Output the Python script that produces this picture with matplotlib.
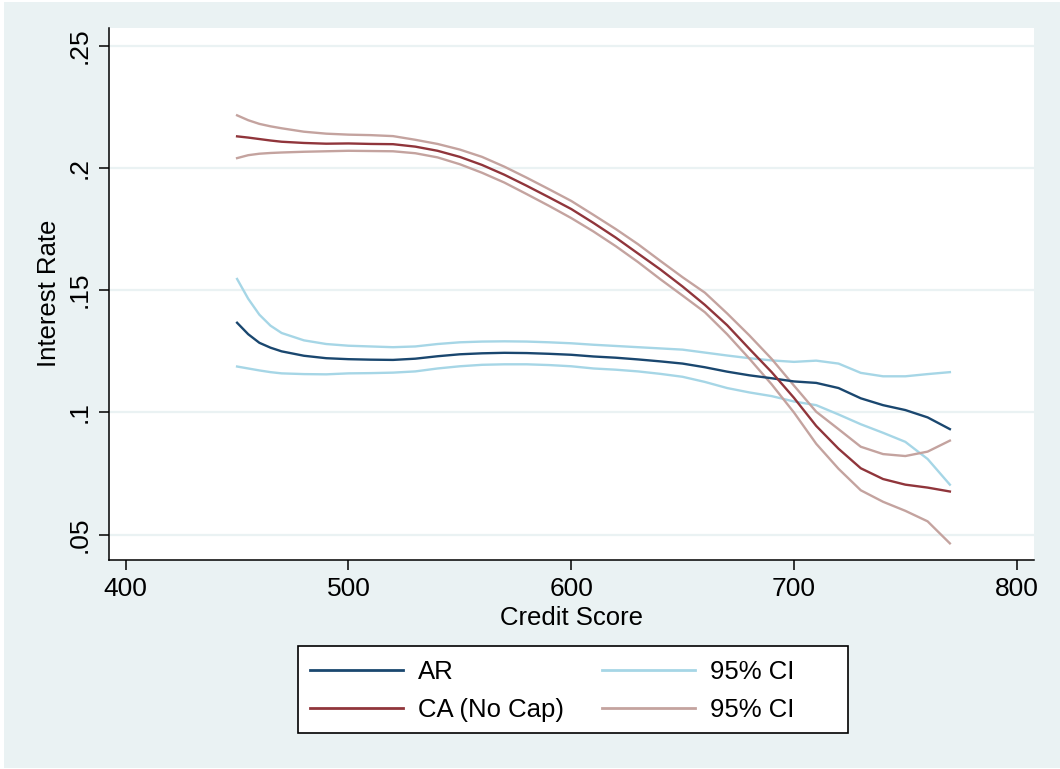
#!/usr/bin/env python3
"""Local polynomial fit of interest rate on credit score, AR vs CA (no cap), with 95% bands."""

import matplotlib

matplotlib.use("Agg")
import matplotlib.pyplot as plt
from matplotlib.lines import Line2D
from matplotlib.patches import Rectangle

plt.rcParams["font.family"] = ["Liberation Sans", "DejaVu Sans"]

# Evaluation grid (credit score)
score = [450, 455, 460, 465, 470, 480, 490, 500, 510, 520, 530, 540, 550, 560, 570, 580, 590,
         600, 610, 620, 630, 640, 650, 660, 670, 680, 690, 700, 710, 720, 730, 740, 750, 760, 770]

ar_fit = [0.1367, 0.1320, 0.1285, 0.1265, 0.1250, 0.1232, 0.1222, 0.1218, 0.1216, 0.1215, 0.1220,
          0.1230, 0.1238, 0.1242, 0.1244, 0.1243, 0.1240, 0.1236, 0.1229, 0.1224, 0.1217, 0.1209,
          0.1200, 0.1185, 0.1167, 0.1152, 0.1140, 0.1127, 0.1121, 0.1100, 0.1058, 0.1030, 0.1010,
          0.0980, 0.0932]
ar_hi = [0.1546, 0.1465, 0.1400, 0.1355, 0.1325, 0.1295, 0.1280, 0.1273, 0.1270, 0.1267, 0.1270,
         0.1280, 0.1287, 0.1290, 0.1291, 0.1290, 0.1287, 0.1283, 0.1277, 0.1272, 0.1267, 0.1262,
         0.1257, 0.1245, 0.1233, 0.1222, 0.1213, 0.1207, 0.1212, 0.1200, 0.1162, 0.1148, 0.1148,
         0.1157, 0.1165]
ar_lo = [0.1188, 0.1180, 0.1172, 0.1165, 0.1160, 0.1157, 0.1156, 0.1160, 0.1161, 0.1163, 0.1168,
         0.1180, 0.1189, 0.1195, 0.1197, 0.1197, 0.1194, 0.1189, 0.1180, 0.1175, 0.1168, 0.1158,
         0.1146, 0.1125, 0.1100, 0.1082, 0.1067, 0.1045, 0.1030, 0.0992, 0.0952, 0.0917, 0.0880,
         0.0810, 0.0705]

ca_fit = [0.2129, 0.2124, 0.2118, 0.2112, 0.2107, 0.2102, 0.2099, 0.2100, 0.2098, 0.2097, 0.2087,
          0.2070, 0.2045, 0.2012, 0.1972, 0.1927, 0.1880, 0.1832, 0.1775, 0.1715, 0.1650, 0.1585,
          0.1515, 0.1440, 0.1357, 0.1260, 0.1165, 0.1060, 0.0945, 0.0852, 0.0772, 0.0728, 0.0705,
          0.0693, 0.0677]
ca_hi = [0.2215, 0.2195, 0.2180, 0.2170, 0.2162, 0.2148, 0.2140, 0.2136, 0.2134, 0.2130, 0.2115,
         0.2098, 0.2075, 0.2045, 0.2005, 0.1960, 0.1913, 0.1865, 0.1808, 0.1750, 0.1688, 0.1620,
         0.1553, 0.1490, 0.1405, 0.1315, 0.1219, 0.1110, 0.1003, 0.0932, 0.0860, 0.0830, 0.0822,
         0.0840, 0.0885]
ca_lo = [0.2040, 0.2052, 0.2058, 0.2061, 0.2063, 0.2066, 0.2068, 0.2070, 0.2069, 0.2068, 0.2060,
         0.2043, 0.2015, 0.1980, 0.1940, 0.1893, 0.1845, 0.1795, 0.1740, 0.1680, 0.1615, 0.1545,
         0.1478, 0.1410, 0.1320, 0.1220, 0.1115, 0.1000, 0.0872, 0.0770, 0.0682, 0.0635, 0.0598,
         0.0555, 0.0465]

x_ticks = [400, 500, 600, 700, 800]
y_ticks = [0.05, 0.1, 0.15, 0.2, 0.25]
y_tick_labels = [".05", ".1", ".15", ".2", ".25"]

NAVY = "#1a476f"
MAROON = "#90353b"
CI_BLUE = "#a6d6e6"
CI_ROSE = "#c4a39f"
BG = "#eaf2f3"

W, H = 1060, 769
fig = plt.figure(figsize=(W / 100, H / 100), dpi=100, facecolor="white")
# graph region sits inside a thin white margin, behind the axes
fig.patches.append(Rectangle((4 / W, 1 / H), 1 - 4 / W, 1 - 3 / H, transform=fig.transFigure,
                             facecolor=BG, edgecolor="none", zorder=-10))

ax = fig.add_axes([109 / W, 1 - 559.5 / H, 925.3 / W, 531.5 / H])
ax.set_facecolor("white")

for yt in y_ticks:
    ax.axhline(yt, color=BG, linewidth=1.6, zorder=0)

lw = 1.7
ax.plot(score, ar_fit, color=NAVY, linewidth=lw, zorder=3)
ax.plot(score, ca_fit, color=MAROON, linewidth=lw, zorder=3)
ax.plot(score, ar_hi, color=CI_BLUE, linewidth=lw, zorder=2)
ax.plot(score, ar_lo, color=CI_BLUE, linewidth=lw, zorder=2)
ax.plot(score, ca_hi, color=CI_ROSE, linewidth=lw, zorder=2)
ax.plot(score, ca_lo, color=CI_ROSE, linewidth=lw, zorder=2)

ax.set_xlim(392.5, 807.9)
ax.set_ylim(0.0399, 0.2572)
ax.set_xticks(x_ticks)
ax.set_yticks(y_ticks)
ax.set_yticklabels(y_tick_labels, rotation=90, va="center")
ax.tick_params(axis="both", direction="out", length=7.5, width=1.1, labelsize=19, pad=5,
               color="black")

for side in ("top", "right"):
    ax.spines[side].set_visible(False)
for side in ("left", "bottom"):
    ax.spines[side].set_linewidth(1.1)
    ax.spines[side].set_color("black")

ax.set_xlabel("Credit Score", fontsize=18.5, labelpad=4)
ax.set_ylabel("Interest Rate", fontsize=18.5, labelpad=5)

# legend box drawn as a figure patch so the padding can be uneven
fig.patches.append(Rectangle((298 / W, 1 - 733 / H), 550 / W, 87 / H,
                             transform=fig.transFigure, facecolor="white",
                             edgecolor="black", linewidth=1.2, zorder=1))
handles = [
    Line2D([], [], color=NAVY, linewidth=2),
    Line2D([], [], color=MAROON, linewidth=2),
    Line2D([], [], color=CI_BLUE, linewidth=2),
    Line2D([], [], color=CI_ROSE, linewidth=2),
]
labels = ["AR", "CA (No Cap)", "95% CI", "95% CI"]
fig.legend(handles, labels, ncol=2, frameon=False, fontsize=18.5,
           loc="upper left", bbox_to_anchor=(310 / W, 1 - 660 / H),
           handlelength=3.62, handletextpad=0.58, columnspacing=1.5,
           labelspacing=0.55, borderpad=0.0, borderaxespad=0.0)

fig.savefig("out.png", dpi=100)
